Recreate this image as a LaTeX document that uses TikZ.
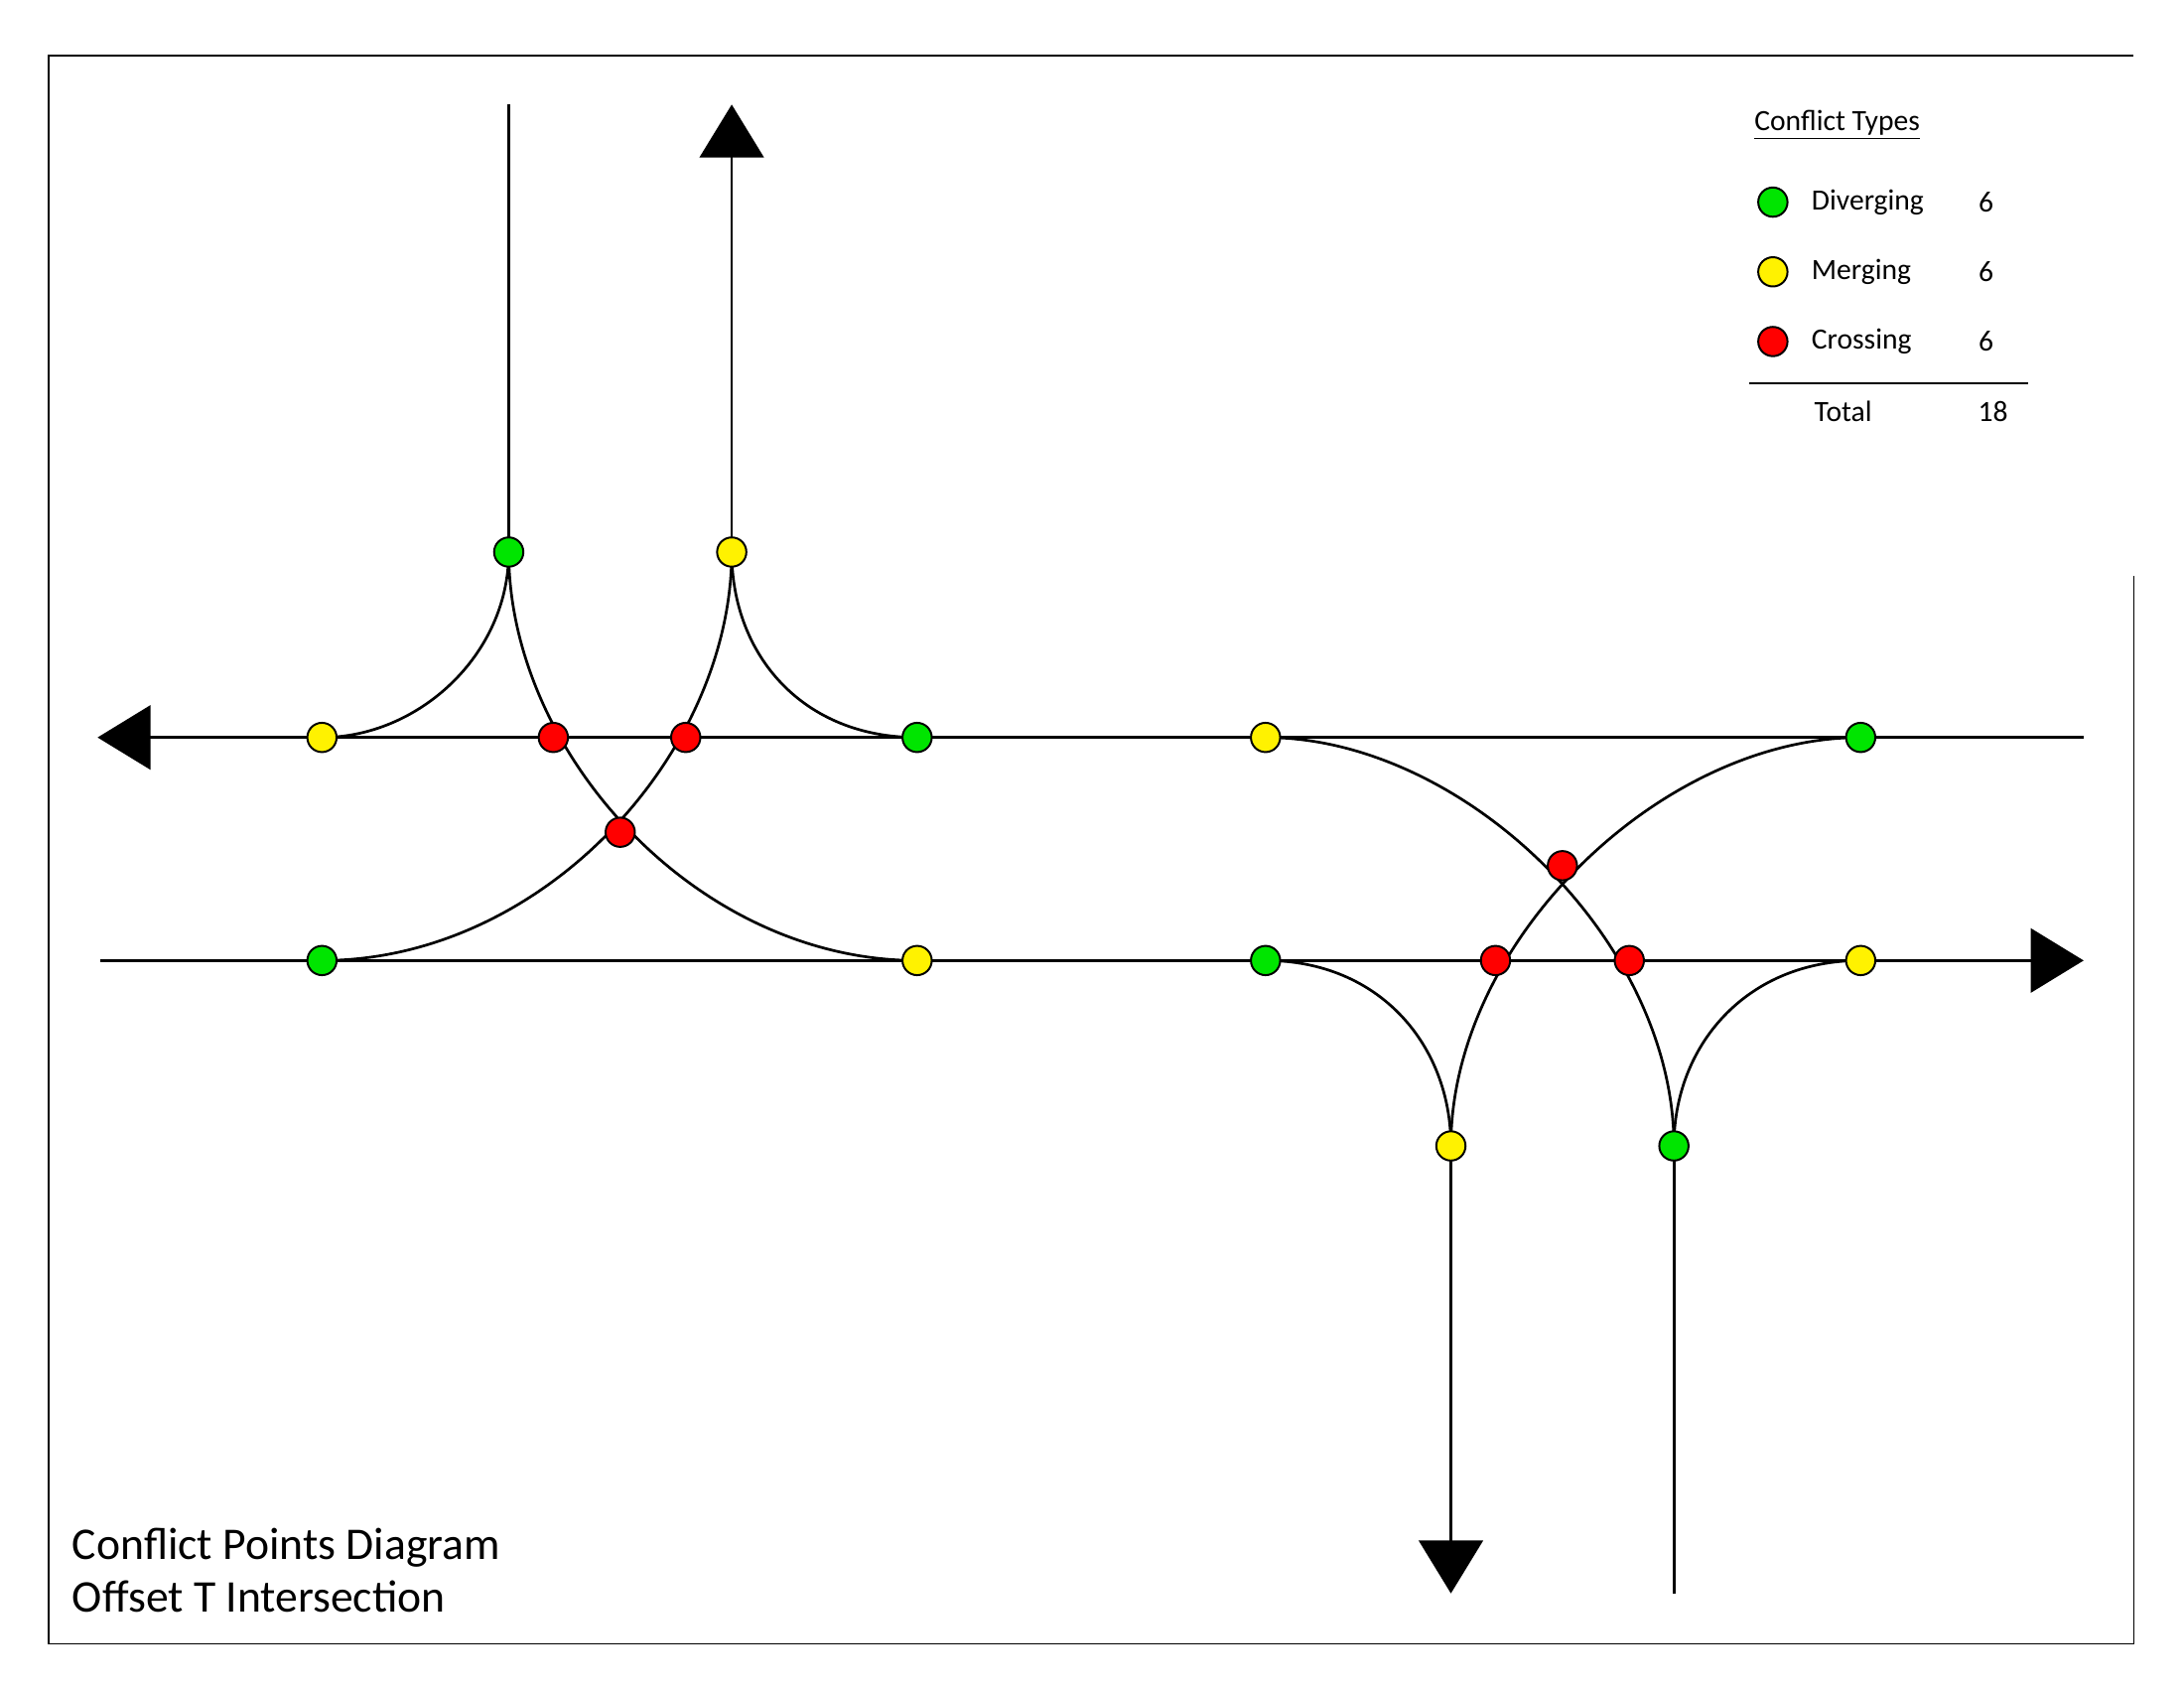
\documentclass[tikz,border=0pt]{standalone}
\usepackage{fontspec}
\setmainfont{Carlito}
\usetikzlibrary{arrows.meta}

\begin{document}
\begin{tikzpicture}[x=0.02cm, y=-0.02cm, line width=1.1pt,
  road/.style={draw, line width=1.1pt},
  bigarrow/.style={-{Triangle[length=0.76cm,width=0.92cm]}},
  conflict/.style={circle, draw, line width=0.8pt, minimum size=0.42cm, inner sep=0pt},
  div/.style={conflict, fill=green!90!black},
  mer/.style={conflict, fill=yellow},
  cro/.style={conflict, fill=red}]

\useasboundingbox (0,0) rectangle (1567,1212);
% Frame
\draw[line width=0.6pt] (1531,413) -- (1531,1179) -- (35,1179) -- (35,40) -- (1531,40);

% Road ends
\coordinate (wend) at (70,529);
\coordinate (eupp) at (1495,529);
\coordinate (wlow) at (72,689);
\coordinate (eend) at (1495,689);
\coordinate (ntop) at (365,75);
\coordinate (nout) at (525,75);
\coordinate (sout) at (1041,1143);
\coordinate (sbot) at (1201,1143);

% Conflict points
\coordinate (g1) at (365,396);
\coordinate (y1) at (525,396);
\coordinate (y2) at (231,529);
\coordinate (r1) at (397,529);
\coordinate (r2) at (492,529);
\coordinate (g2) at (658,529);
\coordinate (y3) at (908,529);
\coordinate (g3) at (1335,529);
\coordinate (r3) at (445,597);
\coordinate (r4) at (1121,621);
\coordinate (g4) at (231,689);
\coordinate (y4) at (658,689);
\coordinate (g5) at (908,689);
\coordinate (r5) at (1073,689);
\coordinate (r6) at (1169,689);
\coordinate (y5) at (1335,689);
\coordinate (y6) at (1041,822);
\coordinate (g6) at (1201,822);

% Straight roads
\draw[bigarrow] (eupp) -- (wend);
\draw[bigarrow] (wlow) -- (eend);
\draw (ntop) -- (g1);
\draw[bigarrow] (y1) -- (nout);
\draw[bigarrow] (y6) -- (sout);
\draw (g6) -- (sbot);

% Turning paths
\draw (g1) .. controls (365,470) and (300,529) .. (y2);
\draw (g1) .. controls (365,540) and (500,689) .. (y4);
\draw (g4) .. controls (390,689) and (525,540) .. (y1);
\draw (g2) .. controls (576,529) and (525,470) .. (y1);
\draw (y3) .. controls (1050,529) and (1201,675) .. (g6);
\draw (g3) .. controls (1192,529) and (1041,675) .. (y6);
\draw (g5) .. controls (990,689) and (1041,750) .. (y6);
\draw (y5) .. controls (1253,689) and (1201,750) .. (g6);

% Dots
\foreach \p in {g1,g2,g3,g4,g5,g6} \node[div] at (\p) {};
\foreach \p in {y1,y2,y3,y4,y5,y6} \node[mer] at (\p) {};
\foreach \p in {r1,r2,r3,r4,r5,r6} \node[cro] at (\p) {};

% Legend
\node (lt) [anchor=west, font=\fontsize{12}{14}\selectfont] at (1252,90) {\underline{Conflict Types}};
\node (ld) [div] at (1272,145) {};
\node (lm) [mer] at (1272,195) {};
\node (lc) [cro] at (1272,245) {};
\node (td) [anchor=west, font=\fontsize{12}{14}\selectfont] at (1293,145) {Diverging};
\node (tm) [anchor=west, font=\fontsize{12}{14}\selectfont] at (1293,195) {Merging};
\node (tc) [anchor=west, font=\fontsize{12}{14}\selectfont] at (1293,245) {Crossing};
\node (nd) [font=\fontsize{12}{14}\selectfont] at (1425,145) {6};
\node (nm) [font=\fontsize{12}{14}\selectfont] at (1425,195) {6};
\node (nc) [font=\fontsize{12}{14}\selectfont] at (1425,245) {6};
\draw[line width=0.6pt] (1255,275) -- (1455,275);
\node (tt) [anchor=west, font=\fontsize{12}{14}\selectfont] at (1295,295) {Total};
\node (nt) [font=\fontsize{12}{14}\selectfont] at (1430,295) {18};

% Title
\node (title) [anchor=north west, align=left, inner sep=0pt, font=\fontsize{18.5}{21.5}\selectfont] at (51,1095) {Conflict Points Diagram\\Offset T Intersection};

\end{tikzpicture}
\end{document}
